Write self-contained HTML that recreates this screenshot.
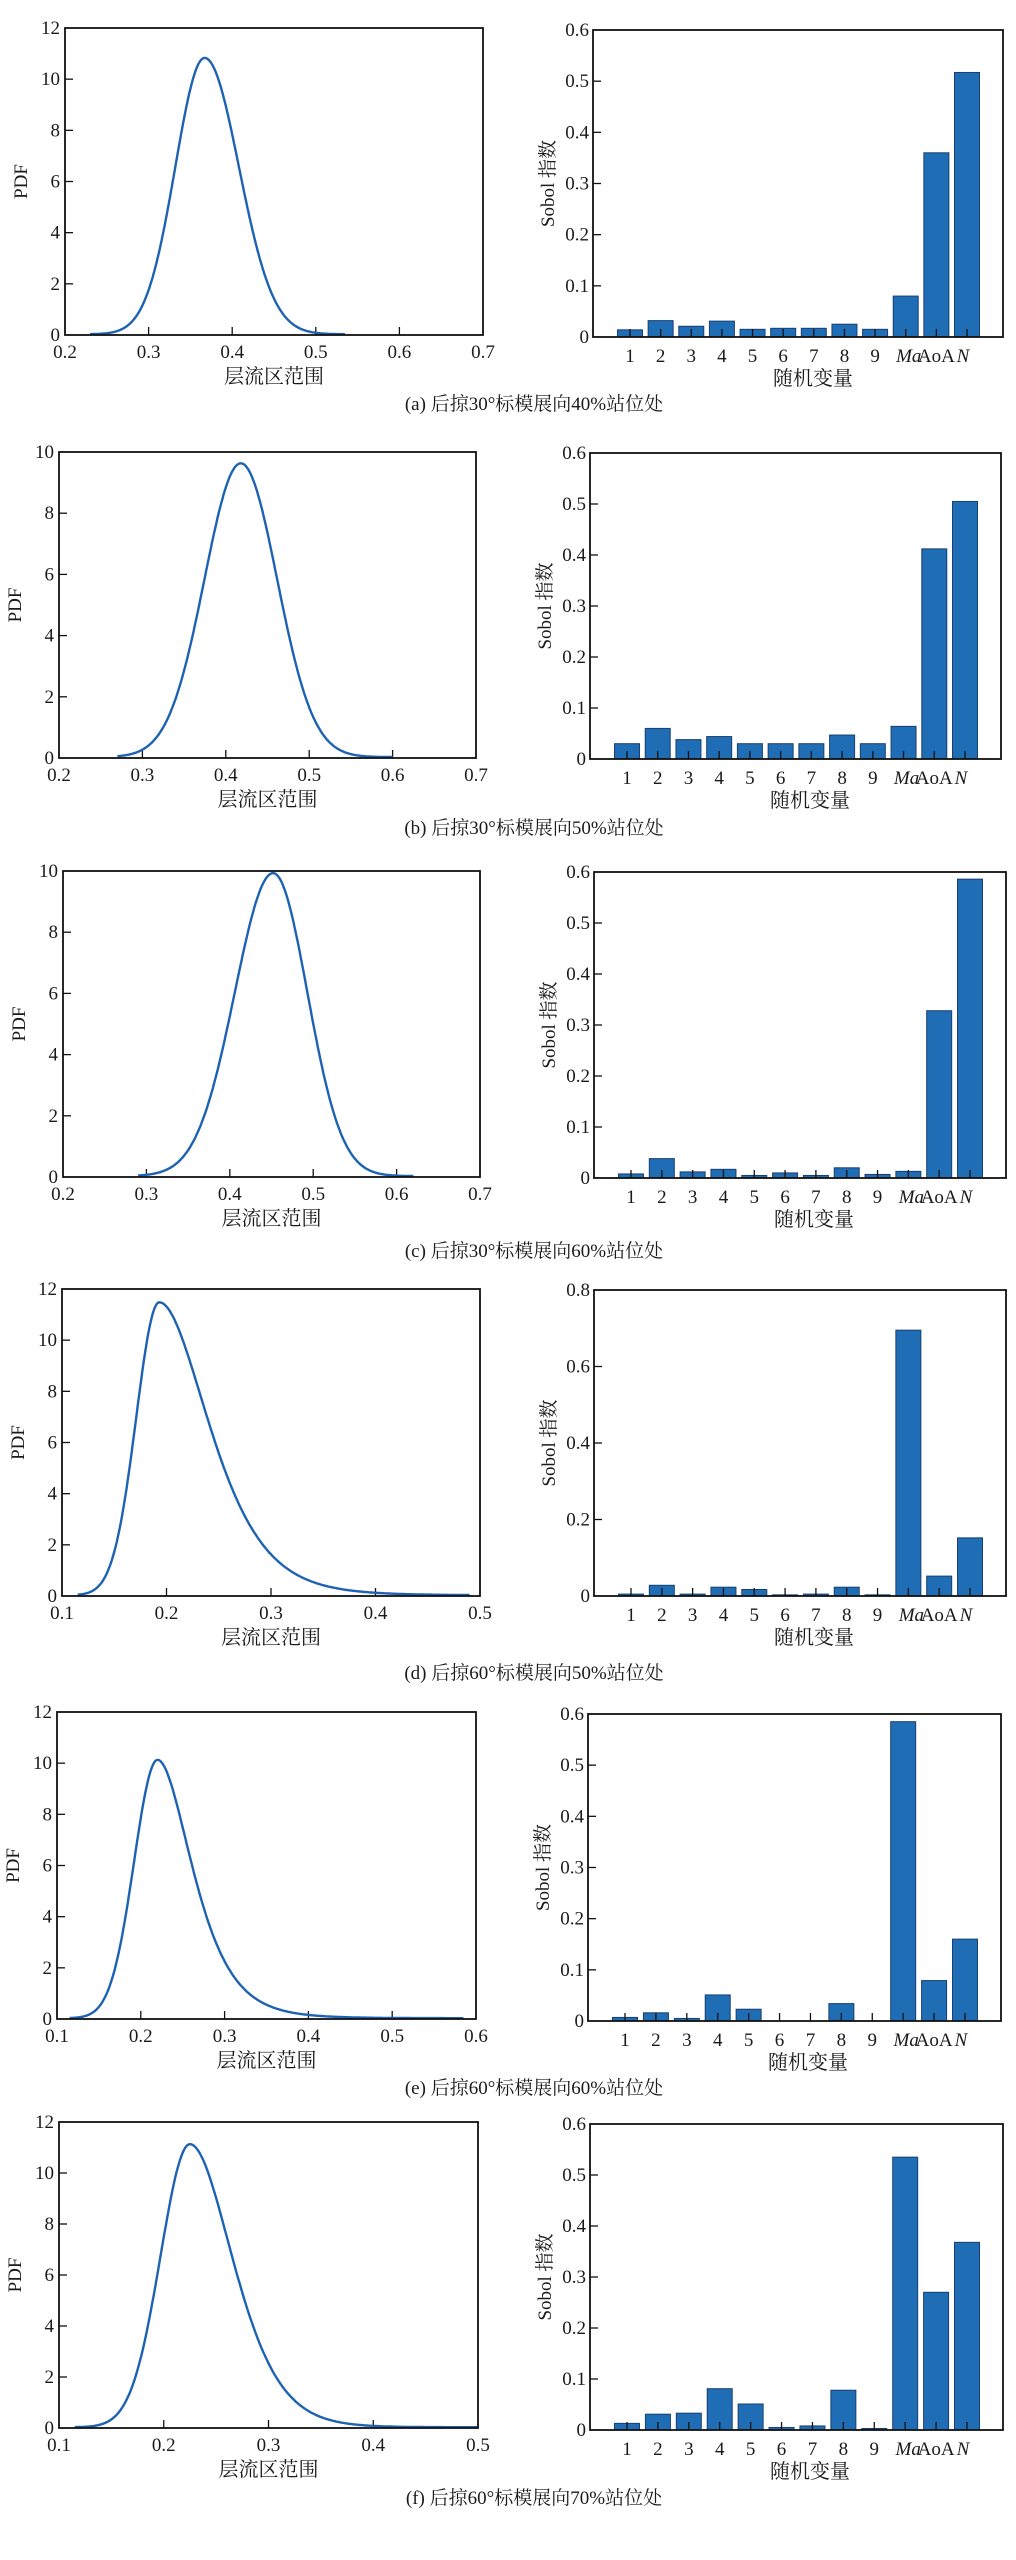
<!DOCTYPE html>
<html><head><meta charset="utf-8">
<style>
html,body{margin:0;padding:0;background:#fff;}
svg{display:block;}
text{font-family:"Liberation Serif","Noto Serif CJK SC",serif;fill:#1a1a1a;}
</style></head>
<body>
<svg id="s" width="1016" height="2560" viewBox="0 0 1016 2560" xmlns="http://www.w3.org/2000/svg"></svg>
<script>
var S=document.getElementById('s'),out='';
var rows=[
 {L:[65,28,483,335],R:[593,30,1003,337],cap:403,t:'(a) 后掠30°标模展向40%站位处',
  x0:.2,x1:.7,ym:12,yt:[0,2,4,6,8,10,12],mu:.367,pk:10.8,sL:.035,sR:.041,k:0,a:.23,b:.535,
  bm:.6,bt:[0,.1,.2,.3,.4,.5,.6],bars:[.014,.032,.021,.031,.015,.017,.017,.025,.015,.08,.36,.517]},
 {L:[59,452,476,758],R:[590,453,1001,759],cap:827,t:'(b) 后掠30°标模展向50%站位处',
  x0:.2,x1:.7,ym:10,yt:[0,2,4,6,8,10],mu:.418,pk:9.6,sL:.0435,sR:.0435,k:0,a:.27,b:.6,
  bm:.6,bt:[0,.1,.2,.3,.4,.5,.6],bars:[.03,.06,.038,.044,.03,.03,.03,.047,.03,.064,.412,.505]},
 {L:[63,871,480,1177],R:[594,872,1006,1178],cap:1250,t:'(c) 后掠30°标模展向60%站位处',
  x0:.2,x1:.7,ym:10,yt:[0,2,4,6,8,10],mu:.452,pk:9.9,sL:.046,sR:.041,k:0,a:.29,b:.62,
  bm:.6,bt:[0,.1,.2,.3,.4,.5,.6],bars:[.008,.038,.012,.017,.005,.01,.005,.02,.007,.013,.328,.586]},
 {L:[62,1289,480,1596],R:[594,1290,1006,1596],cap:1672,t:'(d) 后掠60°标模展向50%站位处',
  x0:.1,x1:.5,ym:12,yt:[0,2,4,6,8,10,12],mu:.193,pk:11.45,sL:.022,sR:.040,k:.13,a:.115,b:.49,
  bm:.8,bt:[0,.2,.4,.6,.8],bars:[.005,.028,.005,.023,.017,.003,.005,.023,.003,.695,.052,.152]},
 {L:[57,1712,476,2019],R:[588,1714,1001,2021],cap:2087,t:'(e) 后掠60°标模展向60%站位处',
  x0:.1,x1:.6,ym:12,yt:[0,2,4,6,8,10,12],mu:.22,pk:10.1,sL:.028,sR:.034,k:.15,a:.115,b:.585,
  bm:.6,bt:[0,.1,.2,.3,.4,.5,.6],bars:[.007,.016,.005,.051,.023,0,0,.034,0,.585,.079,.16]},
 {L:[59,2122,478,2428],R:[590,2124,1003,2430],cap:2497,t:'(f) 后掠60°标模展向70%站位处',
  x0:.1,x1:.5,ym:12,yt:[0,2,4,6,8,10,12],mu:.225,pk:11.1,sL:.028,sR:.036,k:.1,a:.115,b:.5,
  bm:.6,bt:[0,.1,.2,.3,.4,.5,.6],bars:[.013,.031,.033,.081,.051,.005,.008,.078,.003,.535,.27,.368]}
];
function fmt(v){return (Math.round(v*10)/10).toString();}
rows.forEach(function(r){
 var L=r.L,R=r.R;
 var W=L[2]-L[0],H=L[3]-L[1];
 function X(v){return L[0]+(v-r.x0)/(r.x1-r.x0)*W;}
 function Y(v){return L[3]-v/r.ym*H;}
 for(var v=r.x0;v<=r.x1+1e-9;v+=0.1){
  var x=X(v);
  if(v>r.x0+1e-9&&v<r.x1-1e-9) out+='<line x1="'+x+'" y1="'+L[3]+'" x2="'+x+'" y2="'+(L[3]-8)+'" stroke="#111" stroke-width="1.3"/>';
  out+='<text x="'+x+'" y="'+(L[3]+23)+'" font-size="19" text-anchor="middle">'+fmt(v)+'</text>';
 }
 r.yt.forEach(function(t){var y=Y(t);
  if(t>0&&t<r.ym) out+='<line x1="'+L[0]+'" y1="'+y+'" x2="'+(L[0]+8)+'" y2="'+y+'" stroke="#111" stroke-width="1.3"/>';
  out+='<text x="'+(L[0]-5)+'" y="'+(y+6)+'" font-size="19" text-anchor="end">'+t+'</text>';});
 var p='';
 for(var i=0;i<=400;i++){
  var xv=r.a+(r.b-r.a)*i/400,d=xv-r.mu,s=d<0?r.sL:(r.sR+r.k*d);
  var yv=r.pk*Math.exp(-d*d/(2*s*s))+0.03;
  p+=(i?'L':'M')+X(xv).toFixed(1)+' '+Y(yv).toFixed(1);
 }
 out+='<path d="'+p+'" fill="none" stroke="#1d62b3" stroke-width="2.4"/>';
 out+='<rect x="'+L[0]+'" y="'+L[1]+'" width="'+W+'" height="'+H+'" fill="none" stroke="#111" stroke-width="1.8"/>';
 out+='<text transform="translate('+(L[0]-38)+','+(L[1]+H/2)+') rotate(-90)" font-size="19" text-anchor="middle">PDF</text>';
 out+='<text x="'+(L[0]+W/2)+'" y="'+(L[3]+48)+'" font-size="20" text-anchor="middle">层流区范围</text>';
 var W2=R[2]-R[0],H2=R[3]-R[1];
 function BY(v){return R[3]-v/r.bm*H2;}
 var labs=['1','2','3','4','5','6','7','8','9','<tspan font-style="italic">Ma</tspan>','AoA','<tspan font-style="italic">N</tspan>'];
 var pitch=(W2-73)/11;
 r.bars.forEach(function(b,i){
  var cx=R[0]+37+i*pitch,bw=25;
  if(b>0) out+='<rect x="'+(cx-bw/2)+'" y="'+BY(b)+'" width="'+bw+'" height="'+(R[3]-BY(b))+'" fill="#1f6db5" stroke="#1a3f70" stroke-width="1"/>';
  out+='<line x1="'+cx+'" y1="'+R[3]+'" x2="'+cx+'" y2="'+(R[3]-8)+'" stroke="#111" stroke-width="1.3"/>';
  var lx=cx; if(i==9) lx=cx+3; if(i==10) lx=cx; if(i==11) lx=cx-4;
  out+='<text x="'+lx+'" y="'+(R[3]+25)+'" font-size="19" text-anchor="middle">'+labs[i]+'</text>';
 });
 r.bt.forEach(function(t){var y=BY(t);
  if(t>0&&t<r.bm) out+='<line x1="'+R[0]+'" y1="'+y+'" x2="'+(R[0]+8)+'" y2="'+y+'" stroke="#111" stroke-width="1.3"/>';
  out+='<text x="'+(R[0]-4)+'" y="'+(y+6)+'" font-size="19" text-anchor="end">'+(t==0?'0':fmt(t))+'</text>';});
 out+='<rect x="'+R[0]+'" y="'+R[1]+'" width="'+W2+'" height="'+H2+'" fill="none" stroke="#111" stroke-width="1.8"/>';
 out+='<text transform="translate('+(R[0]-39)+','+(R[1]+H2/2)+') rotate(-90)" font-size="19" text-anchor="middle">Sobol 指数</text>';
 out+='<text x="'+(R[0]+220)+'" y="'+(R[3]+48)+'" font-size="20" text-anchor="middle">随机变量</text>';
 out+='<text x="534" y="'+(r.cap+7)+'" font-size="19" text-anchor="middle">'+r.t+'</text>';
});
S.innerHTML=out;
</script>
</body></html>
